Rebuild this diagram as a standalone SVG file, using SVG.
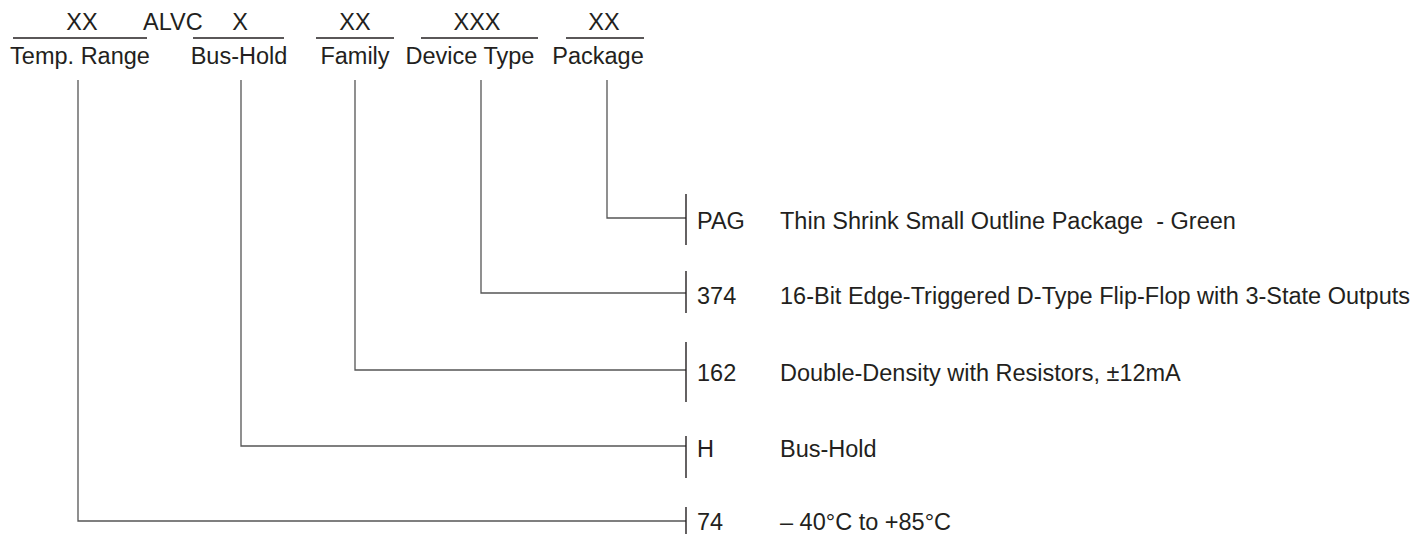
<svg xmlns="http://www.w3.org/2000/svg" width="1419" height="534" viewBox="0 0 1419 534">
<style>
text{font-family:"Liberation Sans",Arial,sans-serif;font-size:23.5px;fill:#231f20;white-space:pre}
.m{text-anchor:middle}
.u{stroke:#231f20;stroke-width:1.5}
.c{fill:none;stroke:#555;stroke-width:1.3}
.b{stroke:#231f20;stroke-width:1.4}
</style>
<rect width="1419" height="534" fill="#fff"/>
<g id="header">
<text class="m" x="82" y="30">XX</text>
<text x="143" y="30">ALVC</text>
<text class="m" x="240" y="30">X</text>
<text class="m" x="355" y="30">XX</text>
<text class="m" x="477" y="30">XXX</text>
<text class="m" x="604" y="30">XX</text>
<line class="u" x1="13" y1="38" x2="147" y2="38"/>
<line class="u" x1="193" y1="38" x2="284" y2="38"/>
<line class="u" x1="316" y1="38" x2="394" y2="38"/>
<line class="u" x1="421" y1="38" x2="538" y2="38"/>
<line class="u" x1="566" y1="38" x2="644" y2="38"/>
<text class="m" x="80" y="64">Temp. Range</text>
<text class="m" x="239" y="64">Bus-Hold</text>
<text class="m" x="355" y="64">Family</text>
<text class="m" x="470" y="64">Device Type</text>
<text class="m" x="598" y="64">Package</text>
</g>
<g id="connectors">
<polyline class="c" points="607,80 607,218 686,218"/>
<polyline class="c" points="481,80 481,293 686,293"/>
<polyline class="c" points="355,80 355,370 686,370"/>
<polyline class="c" points="241,80 241,446 686,446"/>
<polyline class="c" points="78,80 78,521 686,521"/>
</g>
<g id="opt-pag">
<line class="b" x1="686" y1="194" x2="686" y2="245"/>
<text x="697" y="229">PAG</text>
<text x="780" y="229">Thin Shrink Small Outline Package  - Green</text>
</g>
<g id="opt-374">
<line class="b" x1="686" y1="271" x2="686" y2="313"/>
<text x="697" y="304">374</text>
<text x="780" y="304">16-Bit Edge-Triggered D-Type Flip-Flop with 3-State Outputs</text>
</g>
<g id="opt-162">
<line class="b" x1="686" y1="342" x2="686" y2="402"/>
<text x="697" y="381">162</text>
<text x="780" y="381">Double-Density with Resistors, ±12mA</text>
</g>
<g id="opt-h">
<line class="b" x1="686" y1="436" x2="686" y2="478"/>
<text x="697" y="457">H</text>
<text x="780" y="457">Bus-Hold</text>
</g>
<g id="opt-74">
<line class="b" x1="686" y1="507" x2="686" y2="534"/>
<text x="697" y="530">74</text>
<text x="780" y="530">– 40°C to +85°C</text>
</g>
</svg>
